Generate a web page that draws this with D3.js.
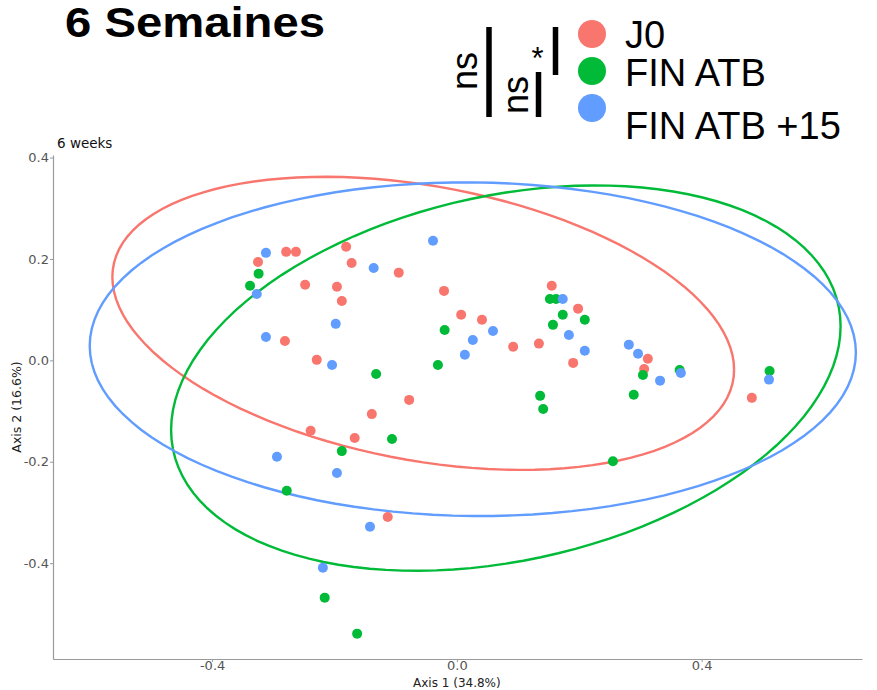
<!DOCTYPE html>
<html>
<head>
<meta charset="utf-8">
<script src="https://cdn.jsdelivr.net/npm/d3@7"></script>
<style>
  body { margin: 0; background: #fff; }
</style>
</head>
<body>
<div id="chart"></div>
<script>
// groups and colours (ggplot default hues)
const groups = ["J0", "FIN ATB", "FIN ATB +15"];
const colors = ["#F8766D", "#00BA38", "#619CFF"];

// PCoA coordinates
const j0X = [-0.325, -0.279, -0.263, -0.181, -0.172, -0.095, -0.248, -0.196, -0.188, -0.281, -0.229, -0.139, -0.239, -0.167, -0.113, -0.021, 0.007, 0.041, 0.092, 0.134, -0.078, 0.155, 0.198, 0.190, 0.312, 0.306, 0.482];
const j0Y = [0.194, 0.214, 0.214, 0.224, 0.192, 0.173, 0.149, 0.145, 0.117, 0.038, 0.001, -0.106, -0.139, -0.153, -0.309, 0.137, 0.090, 0.080, 0.027, 0.033, -0.078, 0.147, 0.102, -0.005, 0.003, -0.017, -0.074];

const finX = [-0.324, -0.338, -0.132, -0.106, -0.188, -0.278, -0.216, -0.163, -0.020, -0.031, 0.152, 0.162, 0.173, 0.209, 0.157, 0.304, 0.364, 0.136, 0.141, 0.289, 0.511, 0.255];
const finY = [0.171, 0.147, -0.027, -0.155, -0.179, -0.257, -0.468, -0.539, 0.060, -0.009, 0.121, 0.121, 0.090, 0.080, 0.070, -0.029, -0.019, -0.070, -0.096, -0.068, -0.021, -0.199];

const fin15X = [-0.312, -0.136, -0.327, -0.198, -0.312, -0.204, -0.294, -0.196, -0.142, -0.219, -0.039, 0.026, 0.059, 0.013, 0.173, 0.183, 0.209, 0.281, 0.296, 0.332, 0.366, 0.510];
const fin15Y = [0.212, 0.182, 0.131, 0.072, 0.046, -0.009, -0.190, -0.222, -0.328, -0.409, 0.236, 0.040, 0.058, 0.011, 0.121, 0.050, 0.019, 0.031, 0.013, -0.040, -0.025, -0.038];

// confidence ellipses: centre, half extent on each axis, correlation
const ellCx = [-0.055, 0.080, 0.026];
const ellCy = [0.073, -0.035, 0.022];
const ellSx = [0.508, 0.547, 0.626];
const ellSy = [0.289, 0.380, 0.329];
const ellRho = [-0.316, 0.269, -0.02];

const xTicks = [-0.4, 0.0, 0.4];
const xTickLabels = ["-0.4", "0.0", "0.4"];
const yTicks = [-0.4, -0.2, 0.0, 0.2, 0.4];
const yTickLabels = ["-0.4", "-0.2", "0.0", "0.2", "0.4"];

const sigLabels = ["ns", "ns", "*"];

const width = 877;
const height = 690;

const svg = d3.select("#chart")
  .append("svg")
  .attr("width", width)
  .attr("height", height)
  .style("background", "#fff");

const x = d3.scaleLinear().domain([-0.66, 0.662]).range([53, 862]);
const y = d3.scaleLinear().domain([-0.589, 0.405]).range([659, 155]);

// axes
const xAxis = svg.append("g")
  .attr("transform", `translate(0,${y.range()[0]})`)
  .call(d3.axisBottom(x).tickValues(xTicks).tickFormat((d, i) => xTickLabels[i]).tickSize(3).tickSizeOuter(0).tickPadding(0));

const yAxis = svg.append("g")
  .attr("transform", `translate(${x.range()[0]},0)`)
  .call(d3.axisLeft(y).tickValues(yTicks).tickFormat((d, i) => yTickLabels[i]).tickSize(3).tickSizeOuter(0).tickPadding(1));

[xAxis, yAxis].forEach(g => {
  g.select(".domain").attr("stroke", "#9a9a9a").attr("stroke-width", 1.2);
  g.selectAll(".tick line").attr("stroke", "#9a9a9a");
  g.selectAll(".tick text")
    .attr("fill", "#555")
    .style("font-family", "DejaVu Sans")
    .style("font-size", "13px");
});
xAxis.selectAll(".tick text").attr("dy", "0.62em");

svg.append("text")
  .attr("x", x(0))
  .attr("y", 687)
  .attr("text-anchor", "middle")
  .style("font-family", "DejaVu Sans")
  .style("font-size", "12px")
  .attr("fill", "#222")
  .text("Axis 1 (34.8%)");

svg.append("text")
  .attr("transform", `translate(21,${(y.range()[0] + y.range()[1]) / 2}) rotate(-90)`)
  .attr("text-anchor", "middle")
  .style("font-family", "DejaVu Sans")
  .style("font-size", "12.5px")
  .attr("fill", "#222")
  .text("Axis 2 (16.6%)");

svg.append("text")
  .attr("x", 57)
  .attr("y", 148)
  .style("font-family", "DejaVu Sans")
  .style("font-size", "13.5px")
  .attr("fill", "#111")
  .text("6 weeks");

// ellipses
const ellipse = i => {
  const pts = [];
  const k = Math.sqrt(1 - ellRho[i] * ellRho[i]);
  for (let s = 0; s <= 120; s++) {
    const t = (s / 120) * 2 * Math.PI;
    pts.push([
      ellCx[i] + ellSx[i] * Math.cos(t),
      ellCy[i] + ellSy[i] * (ellRho[i] * Math.cos(t) + k * Math.sin(t))
    ]);
  }
  return pts;
};

const line = d3.line().x(d => x(d[0])).y(d => y(d[1]));

svg.append("g")
  .selectAll("path")
  .data(groups.map((g, i) => i))
  .enter()
  .append("path")
  .attr("d", i => line(ellipse(i)))
  .attr("fill", "none")
  .attr("stroke", i => colors[i])
  .attr("stroke-width", 2.4);

// points
const series = [
  { xs: j0X, ys: j0Y },
  { xs: finX, ys: finY },
  { xs: fin15X, ys: fin15Y }
];

series.forEach((s, i) => {
  svg.append("g")
    .selectAll("circle")
    .data(s.xs.map((v, j) => [v, s.ys[j]]))
    .enter()
    .append("circle")
    .attr("cx", d => x(d[0]))
    .attr("cy", d => y(d[1]))
    .attr("r", 5)
    .attr("fill", colors[i]);
});

// title
svg.append("text")
  .attr("x", 65)
  .attr("y", 37)
  .attr("textLength", 260)
  .attr("lengthAdjust", "spacingAndGlyphs")
  .style("font-family", "Liberation Sans, Arial, sans-serif")
  .style("font-weight", "bold")
  .style("font-size", "42px")
  .attr("fill", "#000")
  .text("6 Semaines");

// legend
const legendCy = [34, 71, 108];
const legendBase = [48, 86, 139];

svg.append("g")
  .selectAll("circle")
  .data(groups)
  .enter()
  .append("circle")
  .attr("cx", 592)
  .attr("cy", (d, i) => legendCy[i])
  .attr("r", 14)
  .attr("fill", (d, i) => colors[i]);

svg.append("g")
  .selectAll("text")
  .data(groups)
  .enter()
  .append("text")
  .attr("x", 625)
  .attr("y", (d, i) => legendBase[i])
  .style("font-family", "Liberation Sans, Arial, sans-serif")
  .style("font-size", "38px")
  .attr("fill", "#000")
  .text(d => d);

// significance brackets
const bars = [[489, 27, 117], [538.5, 72, 117], [555.5, 27, 75]];
svg.append("g")
  .selectAll("line")
  .data(bars)
  .enter()
  .append("line")
  .attr("x1", d => d[0]).attr("x2", d => d[0])
  .attr("y1", d => d[1]).attr("y2", d => d[2])
  .attr("stroke", "#000")
  .attr("stroke-width", 5.5);

svg.append("text")
  .attr("transform", "translate(477,71) rotate(-90)")
  .attr("text-anchor", "middle")
  .style("font-family", "Liberation Sans, Arial, sans-serif")
  .style("font-size", "36px")
  .text(sigLabels[0]);

svg.append("text")
  .attr("transform", "translate(528,95) rotate(-90)")
  .attr("text-anchor", "middle")
  .style("font-family", "Liberation Sans, Arial, sans-serif")
  .style("font-size", "36px")
  .text(sigLabels[1]);

svg.append("text")
  .attr("x", 537.5)
  .attr("y", 69)
  .attr("text-anchor", "middle")
  .style("font-family", "Liberation Sans, Arial, sans-serif")
  .style("font-size", "31px")
  .text(sigLabels[2]);
</script>
</body>
</html>
